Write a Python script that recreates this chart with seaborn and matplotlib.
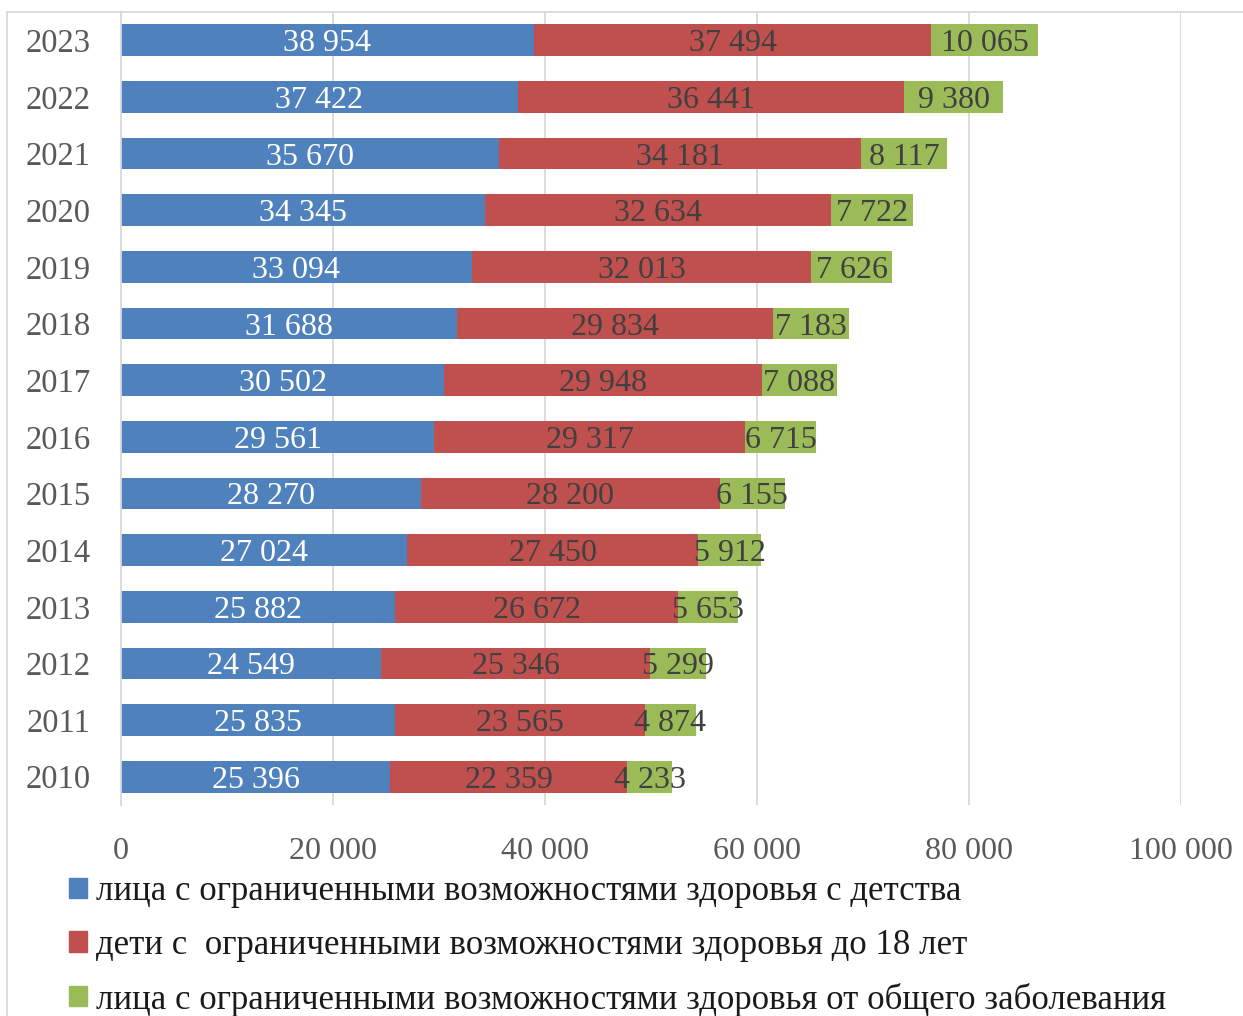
import numpy as np
import pandas as pd
import seaborn as sns
from matplotlib import pyplot as plt
from matplotlib.patches import Rectangle, Patch

years = [str(y) for y in range(2010, 2024)]
since_childhood = [25396, 25835, 24549, 25882, 27024, 28270, 29561,
                   30502, 31688, 33094, 34345, 35670, 37422, 38954]
children_under_18 = [22359, 23565, 25346, 26672, 27450, 28200, 29317,
                     29948, 29834, 32013, 32634, 34181, 36441, 37494]
general_disease = [4233, 4874, 5299, 5653, 5912, 6155, 6715,
                   7088, 7183, 7626, 7722, 8117, 9380, 10065]
series_names = ["лица с ограниченными возможностями здоровья с детства",
                "дети с  ограниченными возможностями здоровья до 18 лет",
                "лица с ограниченными возможностями здоровья от общего заболевания"]
colors = ["#4F81BD", "#C0504D", "#9BBB59"]
xticks = [0, 20000, 40000, 60000, 80000, 100000]

df = pd.DataFrame({"year": years, "a": since_childhood,
                   "b": children_under_18, "c": general_disease})
df["ab"] = df["a"] + df["b"]
df["abc"] = df["ab"] + df["c"]

sns.set_theme(style="white")
plt.rcParams['font.family'] = ['Liberation Serif', 'DejaVu Serif']

fig = plt.figure(figsize=(12.43, 10.16), dpi=100)
ax = fig.add_axes([121 / 1243, 1 - 805 / 1016, (1181 - 121) / 1243, 793 / 1016])

order = years[::-1]
# stacked bars drawn as overlapping cumulative totals
sns.barplot(data=df, x="abc", y="year", order=order, orient="h", color=colors[2],
            saturation=1, width=0.56, linewidth=0, ax=ax)
sns.barplot(data=df, x="ab", y="year", order=order, orient="h", color=colors[1],
            saturation=1, width=0.56, linewidth=0, ax=ax)
sns.barplot(data=df, x="a", y="year", order=order, orient="h", color=colors[0],
            saturation=1, width=0.56, linewidth=0, ax=ax)

for i, yr in enumerate(order):
    row = df[df["year"] == yr].iloc[0]
    segs = [(0, row["a"], "white"), (row["a"], row["b"], "#404040"),
            (row["ab"], row["c"], "#404040")]
    for start, val, col in segs:
        ax.text(start + val / 2, i, f"{val:,}".replace(",", " "), ha="center",
                va="center_baseline", fontsize=23, color=col)

ax.set_xlim(0, 100000)
ax.set_xticks(xticks)
ax.set_xticklabels([f"{t:,}".replace(",", " ") for t in xticks])
ax.grid(axis="x", color="#D9D9D9", linewidth=1.3)
ax.set_axisbelow(True)
ax.set_xlabel("")
ax.set_ylabel("")
ax.tick_params(axis="x", length=0, pad=23, labelsize=23, labelcolor="#595959")
ax.tick_params(axis="y", length=0, pad=22, labelsize=23.5, labelcolor="#595959")
for lbl in ax.get_yticklabels():
    lbl.set_verticalalignment("center_baseline")
for s in ["top", "right", "bottom"]:
    ax.spines[s].set_visible(False)
ax.spines["left"].set_color("#D9D9D9")
ax.spines["left"].set_linewidth(1.3)

# outer chart frame
fig.patches.append(Rectangle((7 / 1243, -0.05), 1.1, 1 - 12 / 1016 + 0.05,
                             transform=fig.transFigure, fill=False,
                             edgecolor="#D9D9D9", linewidth=1.3))

handles = [Patch(color=c) for c in colors]
leg = fig.legend(handles, series_names, loc="upper left",
                 bbox_to_anchor=(69 / 1243, 1 - 875 / 1016), frameon=False,
                 fontsize=25, handlelength=0.52, handleheight=0.52, handletextpad=0.25,
                 labelspacing=0.6, borderpad=0, borderaxespad=0)
for t in leg.get_texts():
    t.set_color("#1a1a1a")

fig.savefig("out.png", dpi=100)
